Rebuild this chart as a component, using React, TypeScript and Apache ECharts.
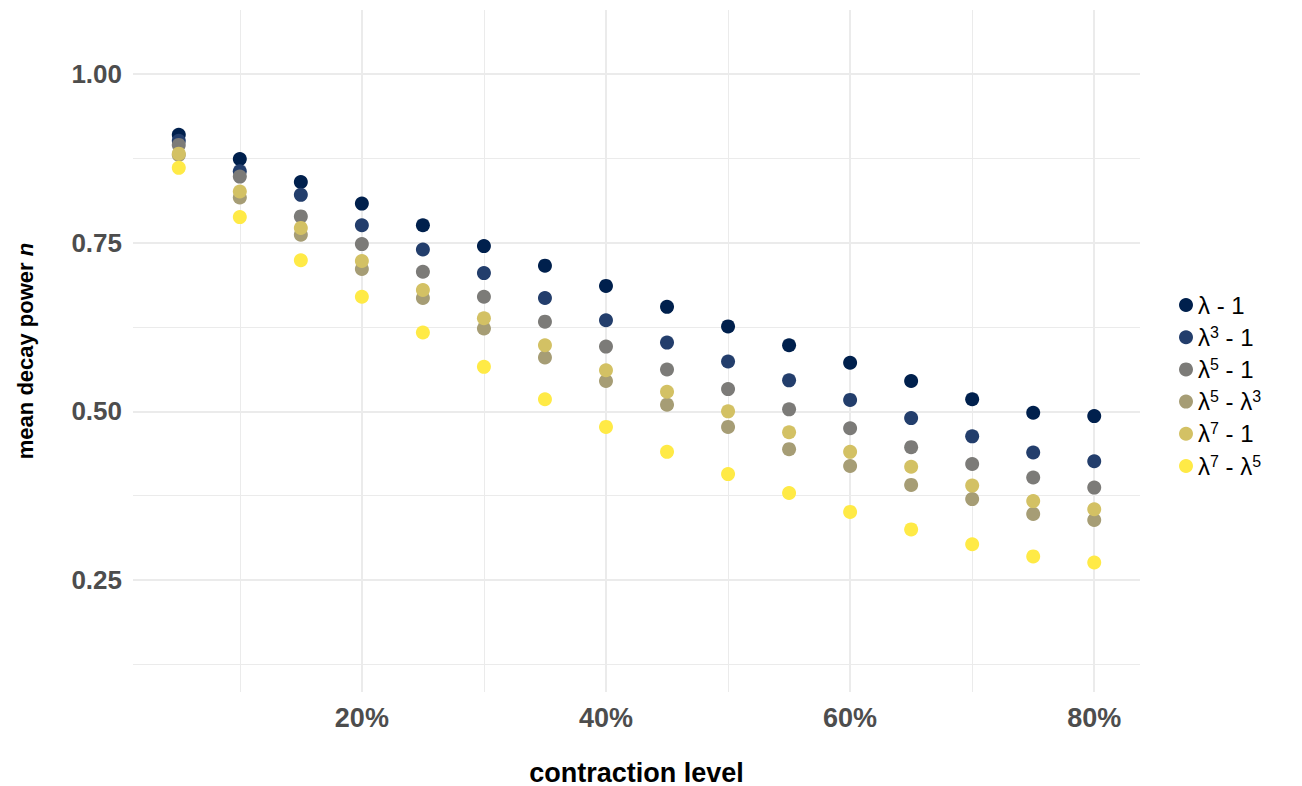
import React, { useEffect, useRef } from "react";
import * as echarts from "echarts";

// contraction level (%) for every group of points
const contraction = [5, 10, 15, 20, 25, 30, 35, 40, 45, 50, 55, 60, 65, 70, 75, 80];

const seriesNames = ["λ - 1", "λ³ - 1", "λ⁵ - 1", "λ⁵ - λ³", "λ⁷ - 1", "λ⁷ - λ⁵"];
// legend labels with real superscripts (rich text)
const legendLabels = [
  "{b|λ - 1}",
  "{b|λ}{sup|3}{b| - 1}",
  "{b|λ}{sup|5}{b| - 1}",
  "{b|λ}{sup|5}{b| - λ}{sup|3}",
  "{b|λ}{sup|7}{b| - 1}",
  "{b|λ}{sup|7}{b| - λ}{sup|5}",
];
const seriesColors = ["#00204D", "#233E6C", "#7C7B78", "#A69D75", "#D3C164", "#FFEA46"];

// mean decay power n per contraction level
const lambda1 = [0.910, 0.874, 0.840, 0.808, 0.776, 0.745, 0.716, 0.686, 0.655, 0.626, 0.598, 0.572, 0.545, 0.518, 0.498, 0.493];
const lambda3 = [0.901, 0.856, 0.821, 0.776, 0.740, 0.705, 0.668, 0.635, 0.602, 0.574, 0.546, 0.517, 0.490, 0.463, 0.439, 0.426];
const lambda5 = [0.895, 0.848, 0.789, 0.748, 0.707, 0.670, 0.633, 0.596, 0.562, 0.533, 0.503, 0.475, 0.447, 0.422, 0.402, 0.387];
const lambda5m3 = [0.880, 0.817, 0.762, 0.711, 0.668, 0.623, 0.580, 0.545, 0.510, 0.477, 0.444, 0.419, 0.391, 0.370, 0.348, 0.339];
const lambda7 = [0.882, 0.826, 0.772, 0.723, 0.680, 0.638, 0.598, 0.561, 0.529, 0.500, 0.469, 0.440, 0.418, 0.390, 0.367, 0.355];
const lambda7m5 = [0.861, 0.788, 0.724, 0.670, 0.617, 0.566, 0.518, 0.477, 0.440, 0.407, 0.379, 0.351, 0.325, 0.303, 0.285, 0.276];

const seriesValues = [lambda1, lambda3, lambda5, lambda5m3, lambda7, lambda7m5];

// axis breaks
const xMajor = [20, 40, 60, 80];
const xMinor = [10, 30, 50, 70];
const yMajor = [0.25, 0.5, 0.75, 1.0];
const yMinor = [0.125, 0.375, 0.625, 0.875];

const FONT = "'Liberation Sans', Arial, Helvetica, sans-serif";
const GRID = "#EBEBEB";

export default function App() {
  const ref = useRef<HTMLDivElement>(null);

  useEffect(() => {
    if (!ref.current) return;
    const chart = echarts.init(ref.current, undefined, { renderer: "svg" });

    const xRange = { min: 1.25, max: 83.75 };
    const yRange = { min: 0.084, max: 1.095 };

    chart.setOption({
      animation: false,
      backgroundColor: "#ffffff",
      textStyle: { fontFamily: FONT },
      grid: {
        left: 133,
        top: 10,
        right: 162,
        bottom: 94,
        containLabel: false,
        outerBoundsMode: "none",
      },
      legend: {
        orient: "vertical",
        left: 1174,
        top: 288,
        itemWidth: 14,
        itemHeight: 14,
        itemGap: 7.2,
        icon: "circle",
        data: seriesNames,
        formatter: (name: string) => legendLabels[seriesNames.indexOf(name)],
        textStyle: {
          fontFamily: FONT,
          fontSize: 24,
          color: "#000000",
          rich: {
            b: { fontFamily: FONT, fontSize: 24, lineHeight: 26, color: "#000000" },
            sup: { fontFamily: FONT, fontSize: 16, lineHeight: 17, verticalAlign: "top", color: "#000000" },
          },
        },
      },
      xAxis: [
        {
          type: "value",
          ...xRange,
          name: "contraction level",
          nameLocation: "middle",
          nameGap: 67,
          nameTextStyle: { fontFamily: FONT, fontSize: 27, fontWeight: "bold", color: "#000000" },
          axisLine: { show: false },
          axisTick: { show: false, customValues: xMajor },
          axisLabel: {
            customValues: xMajor,
            formatter: (v: number) => `${v}%`,
            fontFamily: FONT,
            fontSize: 27,
            fontWeight: "bold",
            color: "#4D4D4D",
            margin: 12,
          },
          splitLine: { show: true, lineStyle: { color: GRID, width: 2 } },
        },
        {
          type: "value",
          ...xRange,
          position: "bottom",
          axisLine: { show: false },
          axisTick: { show: false, customValues: xMinor },
          axisLabel: { show: false },
          splitLine: { show: true, lineStyle: { color: GRID, width: 1 } },
        },
      ],
      yAxis: [
        {
          type: "value",
          ...yRange,
          name: "mean decay power {it|n}",
          nameLocation: "middle",
          nameGap: 97,
          nameTextStyle: {
            fontFamily: FONT,
            fontSize: 22,
            fontWeight: "bold",
            color: "#000000",
            rich: { it: { fontFamily: FONT, fontSize: 22, fontStyle: "italic", color: "#000000" } },
          },
          axisLine: { show: false },
          axisTick: { show: false, customValues: yMajor },
          axisLabel: {
            customValues: yMajor,
            formatter: (v: number) => v.toFixed(2),
            fontFamily: FONT,
            fontSize: 26,
            fontWeight: "bold",
            color: "#4D4D4D",
            margin: 11,
          },
          splitLine: { show: true, lineStyle: { color: GRID, width: 2 } },
        },
        {
          type: "value",
          ...yRange,
          position: "left",
          axisLine: { show: false },
          axisTick: { show: false, customValues: yMinor },
          axisLabel: { show: false },
          splitLine: { show: true, lineStyle: { color: GRID, width: 1 } },
        },
      ],
      series: seriesNames.map((name, s) => ({
        name,
        type: "scatter",
        xAxisIndex: 0,
        yAxisIndex: 0,
        symbol: "circle",
        symbolSize: 14,
        itemStyle: { color: seriesColors[s], opacity: 1 },
        emphasis: { disabled: true },
        data: contraction.map((c, i) => [c, seriesValues[s][i]]),
      })),
    });

    return () => chart.dispose();
  }, []);

  return (
    <div
      ref={ref}
      style={{ position: "fixed", left: 0, top: 0, width: 1302, height: 786, background: "#ffffff" }}
    />
  );
}
